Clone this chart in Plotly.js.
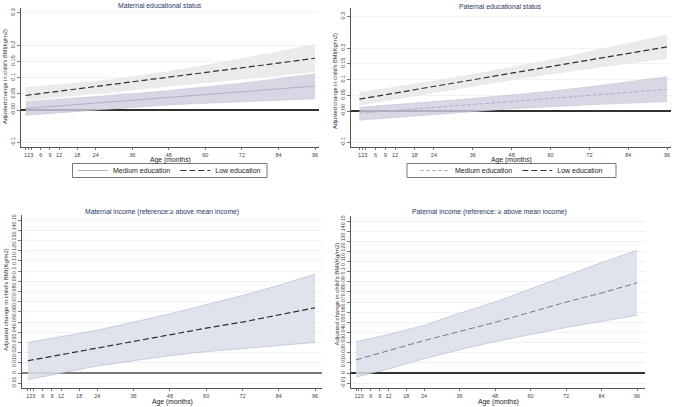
<!DOCTYPE html>
<html>
<head>
<meta charset="utf-8">
<script src="https://cdn.plot.ly/plotly-3.0.1.min.js"></script>
<style>html,body{margin:0;padding:0;background:#fff}#chart{width:676px;height:407px}</style>
</head>
<body>
<div id="chart"></div>
<script>
// ---- data ----
const ages = [1, 12, 24, 36, 48, 60, 72, 84, 96];
const xTickVals = [1, 2, 3, 6, 9, 12, 18, 24, 36, 48, 60, 72, 84, 96];
const xTickText = ["1", "2", "3", "6", "9", "12", "18", "24", "36", "48", "60", "72", "84", "96"];

const topYTickVals = [-0.1, 0, 0.05, 0.1, 0.15, 0.2, 0.3];
const topYTickText = ["-0.1", "-0.00", "0.05", "0.1", "0.15", "0.2", "0.3"];
const botYTickVals = [-0.01, 0, 0.01, 0.02, 0.03, 0.04, 0.05, 0.06, 0.07, 0.08, 0.09, 0.1, 0.11, 0.12, 0.13, 0.14, 0.15];
const botYTickText = ["-0.01", "0", "0.01", "0.02", "0.03", "0.04", "0.05", "0.06", "0.07", "0.08", "0.09", "0.1", "0.11", "0.12", "0.13", "0.14", "0.15"];

// Maternal education
const matLow = [0.045, 0.058, 0.072, 0.087, 0.101, 0.116, 0.130, 0.145, 0.160];
const matLowUp = [0.069, 0.078, 0.088, 0.103, 0.119, 0.138, 0.158, 0.180, 0.203];
const matLowLo = [0.030, 0.040, 0.051, 0.062, 0.073, 0.084, 0.095, 0.106, 0.118];
const matMed = [0.005, 0.013, 0.022, 0.031, 0.039, 0.048, 0.057, 0.066, 0.074];
const matMedUp = [0.026, 0.033, 0.041, 0.050, 0.060, 0.071, 0.083, 0.097, 0.112];
const matMedLo = [-0.016, -0.008, 0.000, 0.008, 0.016, 0.021, 0.026, 0.031, 0.035];

// Paternal education
const patLow = [0.038, 0.057, 0.078, 0.099, 0.120, 0.141, 0.162, 0.183, 0.204];
const patLowUp = [0.059, 0.076, 0.095, 0.116, 0.138, 0.162, 0.188, 0.214, 0.241];
const patLowLo = [0.019, 0.038, 0.058, 0.079, 0.099, 0.118, 0.136, 0.152, 0.167];
const patMed = [-0.007, 0.002, 0.012, 0.021, 0.031, 0.040, 0.050, 0.059, 0.069];
const patMedUp = [0.012, 0.020, 0.030, 0.040, 0.051, 0.063, 0.077, 0.092, 0.109];
const patMedLo = [-0.029, -0.020, -0.011, -0.002, 0.007, 0.014, 0.020, 0.025, 0.030];

// Maternal income
const matInc = [0.012, 0.018, 0.024, 0.031, 0.037, 0.044, 0.050, 0.057, 0.064];
const matIncUp = [0.030, 0.036, 0.042, 0.050, 0.058, 0.067, 0.076, 0.086, 0.097];
const matIncLo = [-0.0065, 0.000, 0.007, 0.012, 0.017, 0.021, 0.024, 0.027, 0.030];

// Paternal income
const patInc = [0.013, 0.022, 0.032, 0.041, 0.050, 0.060, 0.070, 0.079, 0.089];
const patIncUp = [0.031, 0.038, 0.047, 0.059, 0.070, 0.083, 0.096, 0.109, 0.121];
const patIncLo = [-0.004, 0.004, 0.014, 0.023, 0.031, 0.038, 0.045, 0.051, 0.057];

const titles = ["Maternal educational status", "Paternal educational status",
  "Maternal income (reference:\u2265 above mean income)", "Paternal income (reference: \u2265 above mean income)"];
const yTitles = ["Adjusted change in child's BMI(kg/m2)", "Adjusted change in child's BMI(Kg/m2)",
  "Adjusted change in child's BMI(Kg/m2)", "Adjusted change in child's BMI(Kg/m2)"];

// ---- styles ----
const FONT = "Liberation Sans, Arial, sans-serif";
const lowBand = "rgba(234,234,236,0.95)";
const medBand = "rgba(206,206,222,0.8)";
const incBand = "rgba(216,222,233,0.85)";
const incEdge = "rgb(172,182,204)";

function band(xa, ya, lo, up, fill, edge, ew) {
  return [
    {x: ages, y: lo, xaxis: xa, yaxis: ya, type: "scatter", mode: "lines",
     line: {color: edge, width: ew}, showlegend: false, hoverinfo: "skip"},
    {x: ages, y: up, xaxis: xa, yaxis: ya, type: "scatter", mode: "lines", fill: "tonexty",
     fillcolor: fill, line: {color: edge, width: ew}, showlegend: false, hoverinfo: "skip"}
  ];
}

const traces = [];
// Panel 1
traces.push(...band("x", "y", matLowLo, matLowUp, lowBand, "rgba(226,226,229,1)", 0.5));
traces.push(...band("x", "y", matMedLo, matMedUp, medBand, "rgba(188,188,210,1)", 0.5));
traces.push({x: ages, y: matMed, xaxis: "x", yaxis: "y", type: "scatter", mode: "lines", name: "Medium education",
  line: {color: "rgb(178,173,206)", width: 1}, legend: "legend"});
traces.push({x: ages, y: matLow, xaxis: "x", yaxis: "y", type: "scatter", mode: "lines", name: "Low education",
  line: {color: "rgb(50,50,50)", width: 1.2, dash: "6px,3px"}, legend: "legend"});
// Panel 2
traces.push(...band("x2", "y2", patLowLo, patLowUp, lowBand, "rgba(226,226,229,1)", 0.5));
traces.push(...band("x2", "y2", patMedLo, patMedUp, medBand, "rgba(188,188,210,1)", 0.5));
traces.push({x: ages, y: patMed, xaxis: "x2", yaxis: "y2", type: "scatter", mode: "lines", name: "Medium education",
  line: {color: "rgb(178,173,206)", width: 1, dash: "4px,2px"}, legend: "legend2"});
traces.push({x: ages, y: patLow, xaxis: "x2", yaxis: "y2", type: "scatter", mode: "lines", name: "Low education",
  line: {color: "rgb(50,50,50)", width: 1.2, dash: "6px,3px"}, legend: "legend2"});
// Panel 3
traces.push(...band("x3", "y3", matIncLo, matIncUp, incBand, incEdge, 0.6));
traces.push({x: ages, y: matInc, xaxis: "x3", yaxis: "y3", type: "scatter", mode: "lines", showlegend: false,
  line: {color: "rgb(45,45,50)", width: 1.2, dash: "6px,3px"}});
// Panel 4
traces.push(...band("x4", "y4", patIncLo, patIncUp, incBand, incEdge, 0.6));
traces.push({x: ages, y: patInc, xaxis: "x4", yaxis: "y4", type: "scatter", mode: "lines", showlegend: false,
  line: {color: "rgb(120,120,130)", width: 1, dash: "6px,3px"}});

const W = 676, H = 407;
function dx(a, b) { return [a / W, b / W]; }
function dy(top, bottom) { return [1 - bottom / H, 1 - top / H]; }

function xAxis(domain, range, anchor) {
  return {domain: domain, range: range, anchor: anchor, tickvals: xTickVals, ticktext: xTickText,
    tickangle: 0, ticks: "outside", ticklen: 2, tickcolor: "#555", tickwidth: 0.8,
    showline: true, linecolor: "#555", linewidth: 1, showgrid: false, zeroline: false,
    tickfont: {family: FONT, size: 5.5, color: "#444"}, fixedrange: true};
}
function yAxis(domain, range, anchor, vals, text, zc, zw, fs) {
  return {domain: domain, range: range, anchor: anchor, tickvals: vals, ticktext: text,
    tickangle: -90, ticks: "outside", ticklen: 3, tickcolor: "#555", tickwidth: 0.8,
    showline: true, linecolor: "#555", linewidth: 1, showgrid: true, gridcolor: "rgb(234,240,245)", gridwidth: 0.8,
    zeroline: true, zerolinecolor: zc, zerolinewidth: zw,
    tickfont: {family: FONT, size: fs, color: "#444"}, fixedrange: true};
}

function ann(text, x, y, size, color, angle) {
  return {text: text, x: x / W, y: 1 - y / H, xref: "paper", yref: "paper", showarrow: false,
    xanchor: "center", yanchor: "middle", textangle: angle || 0,
    font: {family: FONT, size: size, color: color}};
}
function box(x0, y0, x1, y1) {
  return {type: "rect", xref: "paper", yref: "paper", x0: x0 / W, x1: x1 / W, y0: 1 - y1 / H, y1: 1 - y0 / H,
    line: {color: "#555", width: 0.8}, fillcolor: "rgba(0,0,0,0)", layer: "below"};
}
function legendCfg(cx) {
  return {x: cx / W, y: 1 - 170.5 / H, xanchor: "center", yanchor: "middle", orientation: "h",
    bgcolor: "rgba(0,0,0,0)", borderwidth: 0, itemwidth: 30, traceorder: "normal",
    font: {family: FONT, size: 7, color: "#222"}, tracegroupgap: 0};
}

const titleColor = "rgb(40,55,100)";
const layout = {
  width: W, height: H, margin: {l: 0, r: 0, t: 0, b: 0},
  paper_bgcolor: "#fff", plot_bgcolor: "#fff", showlegend: true,
  xaxis: xAxis(dx(21, 319), [-0.5, 97.3], "y"),
  yaxis: yAxis(dy(8, 147), [-0.114, 0.315], "x", topYTickVals, topYTickText, "rgb(50,50,50)", 1.2, 5.5),
  xaxis2: xAxis(dx(351, 671), [-1.6, 97.2], "y2"),
  yaxis2: yAxis(dy(8, 147), [-0.114, 0.327], "x2", topYTickVals, topYTickText, "rgb(50,50,50)", 1.2, 5.5),
  xaxis3: xAxis(dx(22, 322), [-0.9, 98.3], "y3"),
  yaxis3: yAxis(dy(215, 388), [-0.0147, 0.155], "x3", botYTickVals, botYTickText, "rgb(120,120,120)", 1.8, 5.2),
  xaxis4: xAxis(dx(351, 645), [-0.7, 98.7], "y4"),
  yaxis4: yAxis(dy(216, 388), [-0.0148, 0.155], "x4", botYTickVals, botYTickText, "rgb(50,50,50)", 1.2, 5.2),
  legend: legendCfg(169.5),
  legend2: legendCfg(511.5),
  shapes: [box(72.5, 163.5, 267, 177.5), box(407, 163.5, 616, 177.5)],
  annotations: [
    ann(titles[0], 160, 5, 6.8, titleColor),
    ann(titles[1], 501, 7, 6.8, titleColor),
    ann(titles[2], 162, 212, 6.8, titleColor),
    ann(titles[3], 489, 212, 6.8, titleColor),
    ann(yTitles[0], 5, 77, 5.6, "#333", -90),
    ann(yTitles[1], 335, 81, 5.6, "#333", -90),
    ann(yTitles[2], 6, 300, 6, "#333", -90),
    ann(yTitles[3], 336.5, 294, 6, "#333", -90),
    ann("Age (months)", 170, 159.8, 6.8, "#222"),
    ann("Age (months)", 511, 159.8, 6.8, "#222"),
    ann("Age (months)", 172, 402, 6.8, "#222"),
    ann("Age (months)", 498, 402, 6.8, "#222")
  ]
};

Plotly.newPlot("chart", traces, layout, {staticPlot: true, displayModeBar: false});
</script>
</body>
</html>
